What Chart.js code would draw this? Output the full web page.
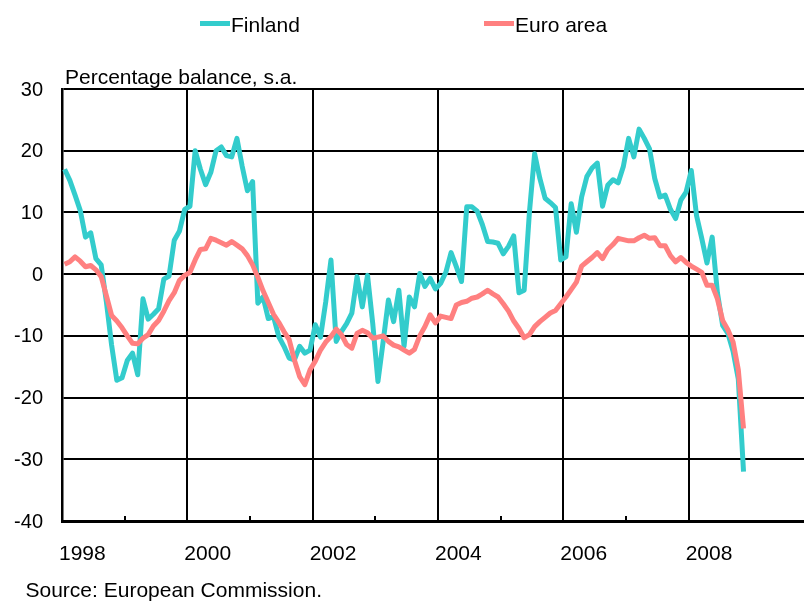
<!DOCTYPE html>
<html>
<head>
<meta charset="utf-8">
<title>Finland vs euro area</title>
<script src="https://cdn.jsdelivr.net/npm/chart.js@4"></script>
<style>
  html, body { margin: 0; padding: 0; background: #fff; overflow: hidden; }
</style>
</head>
<body>
<canvas id="confidenceChart" width="804" height="601"></canvas>
<script>
// monthly values, Jan 1998 onwards
const startYear = 1998;

const finland = [
  17, 15.2, 12.8, 10.3, 6, 6.7, 2.5, 1.5, -4.5, -11.5, -17.2, -16.8,
  -14, -12.8, -16.3, -4, -7.3, -6.5, -5.6, -0.8, -0.3, 5.5, 7, 10.5,
  11, 20, 17, 14.5, 16.5, 20, 20.6, 19.2, 19, 22, 17.5, 13.5,
  15, -4.7, -3.7, -7.2, -6.9, -10.1, -11.7, -13.6, -13.9, -11.7, -12.8, -12.3,
  -8.2, -10.2, -4.5, 2.3, -10.9, -9.3, -8, -6.3, -0.4, -5.3, -0.2, -8,
  -17.4, -10.9, -4.2, -7.7, -2.6, -11.7, -3.7, -5.3, 0.1, -2, -0.7, -2.4,
  -1.5, 0.3, 3.5, 1.2, -1.2, 10.9, 10.9, 10.2, 8, 5.3, 5.2, 5,
  3.3, 4.5, 6.2, -3, -2.6, 10, 19.5, 15.5, 12.3, 11.6, 10.8, 2.3,
  2.8, 11.4, 6.8, 12.5, 15.8, 17.2, 18, 11, 14.4, 15.3, 14.8, 17.5,
  22, 19, 23.5, 22, 20.3, 15.5, 12.5, 12.8, 10.5, 9, 12, 13.3,
  16.8, 9.5, 5.8, 1.8, 6, -3, -8.3, -9.6, -12.5, -17, -32
];

const euroArea = [
  1.6, 2.0, 2.8, 2.1, 1.2, 1.4, 0.7, -0.4, -3.5, -6.7, -7.6, -8.7,
  -10, -11.2, -11.3, -10.4, -9.8, -8.4, -7.5, -6, -4.3, -3, -1, -0.2,
  0.3, 2.3, 4.0, 4.1, 5.8, 5.5, 5.1, 4.7, 5.3, 4.7, 4.1, 3.0,
  1.5, -0.5, -2.7, -4.6, -6.5, -7.8, -9.3, -10.6, -13.9, -16.6, -17.9, -15.5,
  -14.1, -12.3, -11, -10.1, -8.9, -9.8, -11.4, -12, -9.6, -9.1, -9.5, -10.4,
  -10.2, -10, -10.9, -11.5, -11.8, -12.3, -12.8, -12.2, -10, -8.5, -6.6, -7.9,
  -6.8, -7.0, -7.2, -5, -4.6, -4.4, -3.9, -3.7, -3.2, -2.6, -3.2, -3.7,
  -4.8, -6, -7.6, -8.8, -10.3, -9.8, -8.5, -7.7, -7.0, -6.3, -5.9, -4.8,
  -3.7, -2.5, -1.3, 1.3, 2.0, 2.7, 3.5, 2.5, 4, 4.8, 5.8, 5.6,
  5.4, 5.4, 5.9, 6.3, 5.8, 5.9, 4.6, 4.6, 3, 2, 2.7, 1.9,
  1.3, 0.8, 0.3, -1.8, -1.8, -4, -7.5, -9, -11, -15.5, -25
];

const seriesNames = ["Finland", "Euro area"];
const seriesColors = ["#33CCCC", "#FF8080"];
const unitNote = "Percentage balance, s.a.";
const sourceNote = "Source: European Commission.";

// each month is plotted in the middle of its slot on a year axis
const toPoints = (vals) => vals.map((v, i) => ({ x: startYear + (i + 0.5) / 12, y: v }));

const FONT = "'Liberation Sans', Arial, sans-serif";
Chart.defaults.font.family = FONT;
Chart.defaults.color = "#000";

// legend, unit line and source drawn straight on the canvas
const notesPlugin = {
  id: "notes",
  afterDraw(chart) {
    const ctx = chart.ctx;
    const legendX = [200, 484];
    ctx.save();
    ctx.font = "21px " + FONT;
    ctx.fillStyle = "#000";
    ctx.textAlign = "left";
    ctx.textBaseline = "alphabetic";
    chart.data.datasets.forEach((ds, i) => {
      ctx.strokeStyle = ds.borderColor;
      ctx.lineWidth = 5;
      ctx.beginPath();
      ctx.moveTo(legendX[i], 23.5);
      ctx.lineTo(legendX[i] + 30, 23.5);
      ctx.stroke();
      ctx.fillText(ds.label, legendX[i] + 31, 31.5);
    });
    ctx.fillText(unitNote, 65, 84);
    ctx.fillText(sourceNote, 25.5, 596.5);
    ctx.restore();
  }
};

const isLabelYear = (v) => Number.isInteger(v) && v % 2 === 0;

const ctx = document.getElementById("confidenceChart").getContext("2d");
const confidenceChart = new Chart(ctx, {
  type: "line",
  data: {
    datasets: [
      {
        label: seriesNames[0],
        data: toPoints(finland),
        borderColor: seriesColors[0],
        backgroundColor: seriesColors[0],
        borderWidth: 5,
        pointRadius: 0,
        tension: 0,
        borderJoinStyle: "round",
        order: 2,
      },
      {
        label: seriesNames[1],
        data: toPoints(euroArea),
        borderColor: seriesColors[1],
        backgroundColor: seriesColors[1],
        borderWidth: 5,
        pointRadius: 0,
        tension: 0,
        borderJoinStyle: "round",
        order: 1,
      },
    ],
  },
  options: {
    responsive: false,
    animation: false,
    layout: { padding: { top: 89, right: 0, bottom: 30, left: 0 } },
    plugins: {
      legend: { display: false },
      tooltip: { enabled: false },
    },
    scales: {
      x: {
        type: "linear",
        min: 1998,
        max: 2009.84,
        border: { color: "#000", width: 3 },
        grid: {
          color: (c) => (c.tick && isLabelYear(c.tick.value) ? "#000" : "rgba(0,0,0,0)"),
          lineWidth: 2,
          tickLength: -5,
          tickWidth: 2,
          tickColor: (c) => (c.tick && Number.isInteger(c.tick.value) ? "#000" : "rgba(0,0,0,0)"),
        },
        ticks: {
          stepSize: 1,
          autoSkip: false,
          maxRotation: 0,
          align: "start",
          labelOffset: -3,
          padding: 26,
          font: { size: 21 },
          callback: (v) => (isLabelYear(v) ? String(v) : ""),
        },
        afterFit: (s) => {
          s.height = 50;
          s.paddingLeft = 0;
          s.paddingRight = 0;
        },
      },
      y: {
        min: -40,
        max: 30,
        border: { color: "#000", width: 2.5 },
        grid: { color: "#000", lineWidth: 2, drawTicks: false },
        ticks: {
          stepSize: 10,
          padding: 19,
          labelOffset: 1,
          font: { size: 20 },
        },
        afterFit: (s) => { s.width = 62; },
      },
    },
  },
  plugins: [notesPlugin],
});
</script>
</body>
</html>
